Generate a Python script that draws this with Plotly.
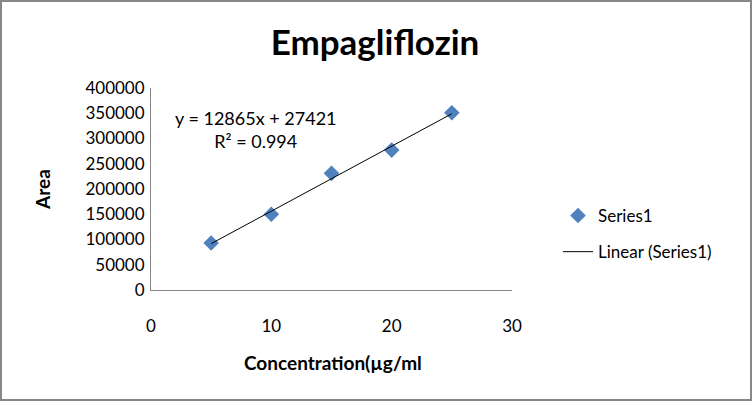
import plotly.graph_objects as go

concentration = [5, 10, 15, 20, 25]
area = [93000, 150000, 231000, 277000, 351000]
slope = 12865
intercept = 27421
r_squared = 0.994
x_ticks = [0, 10, 20, 30]
y_ticks = [0, 50000, 100000, 150000, 200000, 250000, 300000, 350000, 400000]

W, H = 752, 401
L, R, T, B = 151, 240, 88, 111
pw, ph = W - L - R, H - T - B

FONT = "Lato"

fit_x = [min(concentration), max(concentration)]
fit_y = [slope * v + intercept for v in fit_x]

fig = go.Figure()
fig.add_trace(go.Scatter(
    x=concentration, y=area, mode="markers", name="Series1",
    marker=dict(symbol="diamond", size=12, color="#4F81BD", line=dict(width=0)),
    legendgroup="a",
))
fig.add_trace(go.Scatter(
    x=fit_x, y=fit_y, mode="lines", name="Linear (Series1)",
    line=dict(color="black", width=1), legendgroup="b",
))

axis_common = dict(showgrid=False, zeroline=False, showline=True, linecolor="#868686",
                   linewidth=1, ticks="", tickfont=dict(family=FONT, size=17, color="black"))

fig.update_layout(
    width=W, height=H,
    margin=dict(l=L, r=R, t=T, b=B, autoexpand=False),
    paper_bgcolor="white", plot_bgcolor="white",
    font=dict(family=FONT, color="black"),
    title=dict(text="<b>Empagliflozin</b>", x=375 / W, xref="container",
               xanchor="center", y=1 - 43 / H, yanchor="middle", yref="container",
               font=dict(family=FONT, size=35, color="black")),
    xaxis=dict(range=[0, 30], tickvals=x_ticks, ticklabelstandoff=21, **axis_common),
    yaxis=dict(range=[0, 400000], tickvals=y_ticks, tickformat="d", ticklabelstandoff=2, **axis_common),
    legend=dict(x=(558 - L) / pw, y=(290 - 198) / ph, xanchor="left", yanchor="top",
                traceorder="grouped", tracegroupgap=11,
                font=dict(family=FONT, size=17, color="black"), bgcolor="rgba(0,0,0,0)"),
    showlegend=True,
)

fig.add_annotation(
    x=8.7, y=318000, xref="x", yref="y",
    text=f"y = {slope}x + {intercept}<br>R² = {r_squared}",
    showarrow=False, align="center", font=dict(family=FONT, size=18, color="black"),
)
fig.add_annotation(
    x=(333 - L) / pw, y=-(362 - 290) / ph, xref="paper", yref="paper",
    text="<b>Concentration(µg/ml</b>", showarrow=False,
    font=dict(family=FONT, size=19, color="black"), xanchor="center", yanchor="middle",
)
fig.add_annotation(
    x=-(151 - 42) / pw, y=(290 - 190) / ph, xref="paper", yref="paper",
    text="<b>Area</b>", showarrow=False, textangle=-90,
    font=dict(family=FONT, size=19, color="black"), xanchor="center", yanchor="middle",
)

# outer chart border
fig.add_shape(type="rect", xref="paper", yref="paper",
              x0=-(L - 1) / pw, x1=1 + (R - 1) / pw,
              y0=-(B - 1) / ph, y1=1 + (T - 1) / ph,
              line=dict(color="#868686", width=2), fillcolor="rgba(0,0,0,0)", layer="below")

fig.write_html("out.html", config={"displayModeBar": False},
               post_script="document.body.style.margin='0';document.body.style.overflow='hidden';")
